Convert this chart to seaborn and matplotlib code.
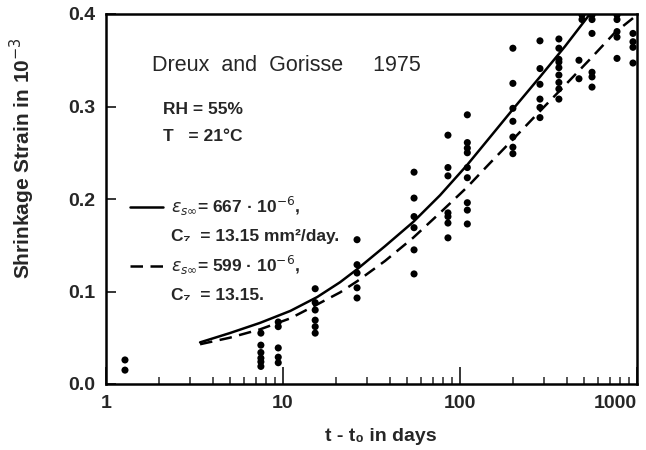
import matplotlib
matplotlib.use("Agg")
import matplotlib.pyplot as plt
from matplotlib.lines import Line2D
from matplotlib.ticker import LogLocator, NullFormatter
from matplotlib.transforms import ScaledTranslation
import pandas as pd
import seaborn as sns

# ---- data ----
days_obs = [1.28, 1.28,
            7.5, 7.5, 7.5, 7.5, 7.5, 7.5,
            9.4, 9.4, 9.4, 9.4, 9.4,
            15.2, 15.2, 15.2, 15.2, 15.2, 15.2,
            26.2, 26.2, 26.2, 26.2, 26.2,
            55, 55, 55, 55, 55, 55,
            85.5, 85.5, 85.5, 85.5, 85.5, 85.5, 85.5,
            110, 110, 110, 110, 110, 110, 110, 110, 110,
            199, 199, 199, 199, 199, 199, 199,
            283, 283, 283, 283, 283, 283,
            362, 362, 362, 362, 362, 362, 362, 362, 362,
            470, 470,
            489, 489,
            557, 557, 557, 557, 557, 557,
            771, 771, 771, 771, 771,
            949, 949, 949, 949]
strain_obs = [0.026, 0.015,
              0.055, 0.042, 0.034, 0.028, 0.024, 0.019,
              0.067, 0.062, 0.039, 0.029, 0.023,
              0.103, 0.088, 0.080, 0.069, 0.062, 0.055,
              0.156, 0.129, 0.120, 0.104, 0.093,
              0.229, 0.201, 0.181, 0.169, 0.145, 0.119,
              0.269, 0.234, 0.225, 0.185, 0.181, 0.174, 0.158,
              0.291, 0.261, 0.255, 0.250, 0.234, 0.223, 0.196, 0.188, 0.173,
              0.363, 0.325, 0.298, 0.284, 0.267, 0.256, 0.249,
              0.371, 0.341, 0.324, 0.308, 0.299, 0.288,
              0.373, 0.363, 0.351, 0.348, 0.342, 0.334, 0.326, 0.319, 0.308,
              0.350, 0.330,
              0.399, 0.394,
              0.399, 0.394, 0.379, 0.337, 0.332, 0.321,
              0.399, 0.394, 0.381, 0.375, 0.352,
              0.379, 0.370, 0.364, 0.347]

curve_days_667 = [3.4, 5.0, 7.4, 11.0, 15.6, 21.0, 26.2, 37.7, 54.3, 77.1,
                  110, 148, 205, 283, 392, 542]
curve_strain_667 = [0.045, 0.055, 0.066, 0.079, 0.094, 0.110, 0.124, 0.149,
                    0.175, 0.204, 0.237, 0.267, 0.300, 0.332, 0.365, 0.400]
curve_days_599 = [3.4, 5.0, 7.4, 11.0, 15.6, 21.0, 26.2, 37.7, 54.3, 77.1,
                  110, 148, 205, 283, 392, 542, 751, 1000]
curve_strain_599 = [0.043, 0.050, 0.059, 0.071, 0.086, 0.099, 0.111, 0.133,
                    0.158, 0.185, 0.213, 0.239, 0.267, 0.295, 0.323, 0.351,
                    0.380, 0.399]

x_ticks = [1, 10, 100, 1000]
x_tick_labels = ["1", "10", "100", "1000"]
y_ticks = [0.0, 0.1, 0.2, 0.3, 0.4]
y_tick_labels = ["0.0", "0.1", "0.2", "0.3", "0.4"]

label_667 = r"$\varepsilon_{s\infty}$= 667 · 10$^{-6}$,"
label_c7_667 = "C₇  = 13.15 mm²/day."
label_599 = r"$\varepsilon_{s\infty}$= 599 · 10$^{-6}$,"
label_c7_599 = "C₇  = 13.15."

# ---- styling ----
sns.set_style("ticks")
plt.rcParams["font.family"] = ["Liberation Sans", "DejaVu Sans"]
plt.rcParams["mathtext.fontset"] = "dejavusans"

fig = plt.figure(figsize=(6.46, 4.5), dpi=100)
ax = fig.add_axes([106 / 646, 1 - 384 / 450, 531 / 646, 370 / 450])

obs = pd.DataFrame({"days": days_obs, "strain": strain_obs})
c667 = pd.DataFrame({"days": curve_days_667, "strain": curve_strain_667})
c599 = pd.DataFrame({"days": curve_days_599, "strain": curve_strain_599})

sns.scatterplot(data=obs, x="days", y="strain", color="black", s=26,
                edgecolor="none", ax=ax, zorder=3)
sns.lineplot(data=c667, x="days", y="strain", color="black", lw=1.8,
             estimator=None, ax=ax)
sns.lineplot(data=c599, x="days", y="strain", color="black", lw=1.8,
             estimator=None, ax=ax)
ax.lines[-1].set_dashes([5, 3])

ax.set_xscale("log")
ax.set_xlim(1, 1000)
ax.set_ylim(0, 0.4)

tick_font = {"family": ["Liberation Sans", "DejaVu Sans"],
             "weight": "bold", "size": 14}
ax.set_xticks(x_ticks)
ax.set_xticklabels(x_tick_labels, fontdict=tick_font)
ax.xaxis.set_minor_locator(LogLocator(base=10, subs=range(2, 10)))
ax.xaxis.set_minor_formatter(NullFormatter())
ax.set_yticks(y_ticks)
ax.set_yticklabels(y_tick_labels, fontdict=tick_font)
last = ax.get_xticklabels()[-1]
last.set_horizontalalignment("right")
last.set_transform(last.get_transform() + ScaledTranslation(5 / 100, 0, fig.dpi_scale_trans))

ax.tick_params(axis="x", which="major", direction="in", length=12, width=1.3,
               pad=8, top=False)
ax.tick_params(axis="x", which="minor", direction="in", length=5, width=1.1,
               top=False)
ax.tick_params(axis="y", which="major", direction="in", length=7, width=1.3,
               pad=8, right=False)

for side in ["left", "bottom", "top", "right"]:
    ax.spines[side].set_visible(True)
    ax.spines[side].set_linewidth(1.8)
    ax.spines[side].set_color("black")

ax.set_xlabel("t - t₀ in days", fontsize=14, fontweight="bold")
ax.set_ylabel(r"Shrinkage Strain in 10$^{-3}$", fontsize=15, fontweight="bold")
ax.xaxis.set_label_coords(0.518, -0.119)
ax.yaxis.set_label_coords(-0.13, 0.61)

ax.text(0.087, 0.862, "Dreux  and  Gorisse     1975", transform=ax.transAxes,
        fontsize=15.5, va="center", ha="left")
ax.text(0.107, 0.741, "RH = 55%", transform=ax.transAxes,
        fontsize=12.5, fontweight="bold", va="center", ha="left")
ax.text(0.107, 0.668, "T   = 21°C", transform=ax.transAxes,
        fontsize=12.5, fontweight="bold", va="center", ha="left")

handles = [Line2D([], [], color="black", lw=1.8),
           Line2D([], [], color="none"),
           Line2D([], [], color="black", lw=1.8, dashes=[5, 3]),
           Line2D([], [], color="none")]
labels = [label_667, label_c7_667, label_599, label_c7_599]
leg = ax.legend(handles, labels, loc="upper left", bbox_to_anchor=(0.045, 0.51),
                frameon=False, borderpad=0, borderaxespad=0, handlelength=1.9,
                handletextpad=0.45, labelspacing=0.6,
                prop={"size": 12.5, "weight": "bold"})

fig.savefig("out.png", dpi=100)
